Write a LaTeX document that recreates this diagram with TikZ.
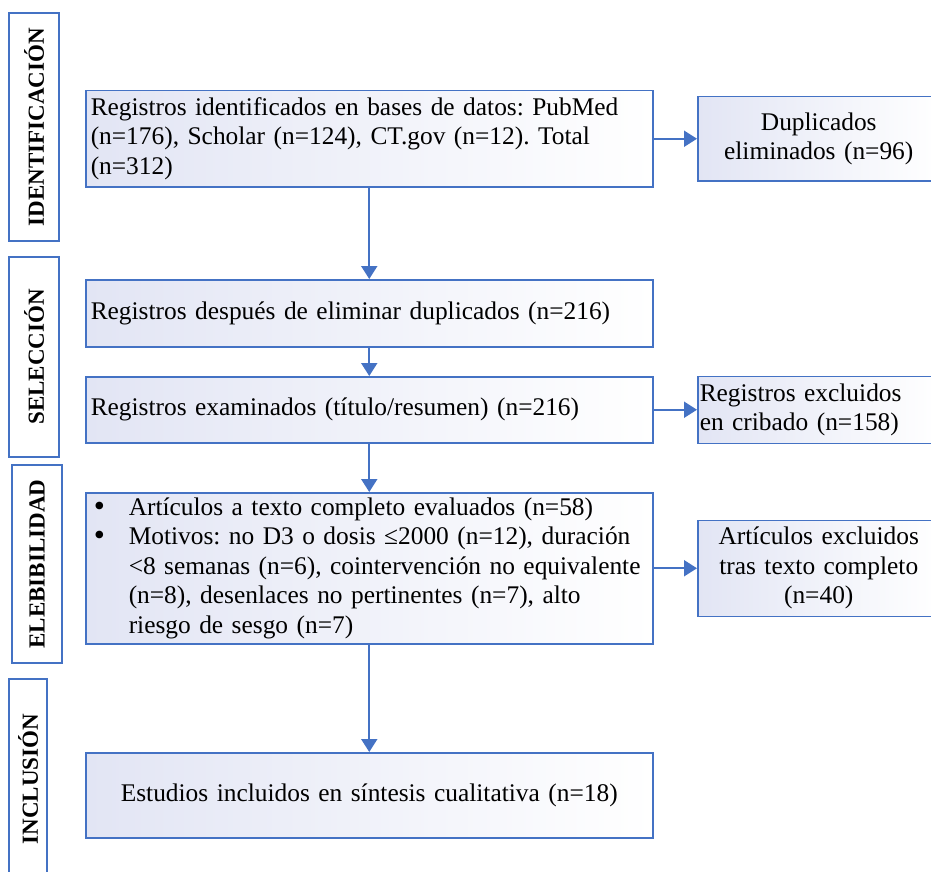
\documentclass[tikz,border=0pt]{standalone}
\usepackage{fontspec}
\setmainfont{Liberation Serif}
\usetikzlibrary{positioning, arrows.meta}
\frenchspacing

\definecolor{lineblue}{RGB}{68,114,196}
\definecolor{lavfill}{RGB}{226,229,244}

\newcommand{\bul}{\hspace*{3pt}\makebox[35pt][l]{\smash{\raisebox{-1pt}{\scalebox{1.25}{\textbullet}}}}}

\tikzset{
  stage/.style={draw=lineblue, line width=1.5pt, fill=white, rotate=90,
    font=\fontsize{23}{27}\selectfont\bfseries, inner sep=0pt},
  flowbox/.style={draw=lineblue, line width=1.5pt, left color=lavfill, right color=white,
    font=\fontsize{25.4}{29.5}\selectfont, inner xsep=5pt, inner ysep=2pt,
    text width=557pt, align=left},
  sidebox/.style={draw=lineblue, line width=1.5pt, left color=lavfill, right color=white,
    font=\fontsize{25.4}{29.5}\selectfont, inner xsep=3pt, inner ysep=2pt,
    text width=236pt},
  flowarrow/.style={-{Triangle[width=16pt, length=13pt]}, draw=lineblue, line width=2pt}
}

\begin{document}
\begin{tikzpicture}[x=1pt, y=-1pt]
    \useasboundingbox (0,0) rectangle (931,872);

    % stage labels on the left
    \node[stage, minimum width=228pt, minimum height=50pt] (ident) at (34,127) {IDENTIFICACIÓN};
    \node[stage, minimum width=200pt, minimum height=50pt] (selec) at (34,357) {SELECCIÓN};
    \node[stage, minimum width=198pt, minimum height=50pt] (eleg) at (37,564) {ELEBIBILIDAD};
    \node[stage, minimum width=200pt, minimum height=38pt] (inclu) at (28,779) {INCLUSIÓN};

    % main column
    \node[flowbox, anchor=north west, minimum height=96pt] (regid) at (85,90)
      {\mbox{Registros identificados en bases de datos: PubMed}\\
       \mbox{(n=176), Scholar (n=124), CT.gov (n=12). Total}\\(n=312)};
    \node[flowbox, minimum height=67pt] (regdup) [below=91.5pt of regid]
      {Registros después de eliminar duplicados (n=216)};
    \node[flowbox, minimum height=66pt] (regexam) [below=28.5pt of regdup]
      {Registros examinados (título/resumen) (n=216)};
    \node[flowbox, minimum height=151pt] (fulltext) [below=48.5pt of regexam]
      {\bul\mbox{Artículos a texto completo evaluados (n=58)}\\
       \bul\mbox{Motivos: no D3 o dosis ≤2000 (n=12), duración}\\
       \hspace*{38pt}\mbox{<8 semanas (n=6), cointervención no equivalente}\\
       \hspace*{38pt}\mbox{(n=8), desenlaces no pertinentes (n=7), alto}\\
       \hspace*{38pt}\mbox{riesgo de sesgo (n=7)}};
    \node[flowbox, align=center, minimum height=85pt] (incl) [below=107.5pt of fulltext]
      {Estudios incluidos en síntesis cualitativa (n=18)};

    % exclusions on the right
    \node[sidebox, align=center, minimum height=84pt] (dupl) [right=43.5pt of regid]
      {Duplicados\\eliminados (n=96)};
    \node[sidebox, align=left, inner xsep=2pt, minimum height=67pt] (exclcrib) [right=43.5pt of regexam]
      {Registros excluidos\\en cribado (n=158)};
    \node[sidebox, align=center, minimum height=96pt] (excltxt) [right=43.5pt of fulltext]
      {Artículos excluidos\\tras texto completo\\(n=40)};

    \draw[flowarrow] (regid) -- (regdup);
    \draw[flowarrow] (regid) -- (dupl);
    \draw[flowarrow] (regdup) -- (regexam);
    \draw[flowarrow] (regexam) -- (fulltext);
    \draw[flowarrow] (regexam) -- (exclcrib);
    \draw[flowarrow] (fulltext) -- (incl);
    \draw[flowarrow] (fulltext) -- (excltxt);
\end{tikzpicture}
\end{document}
